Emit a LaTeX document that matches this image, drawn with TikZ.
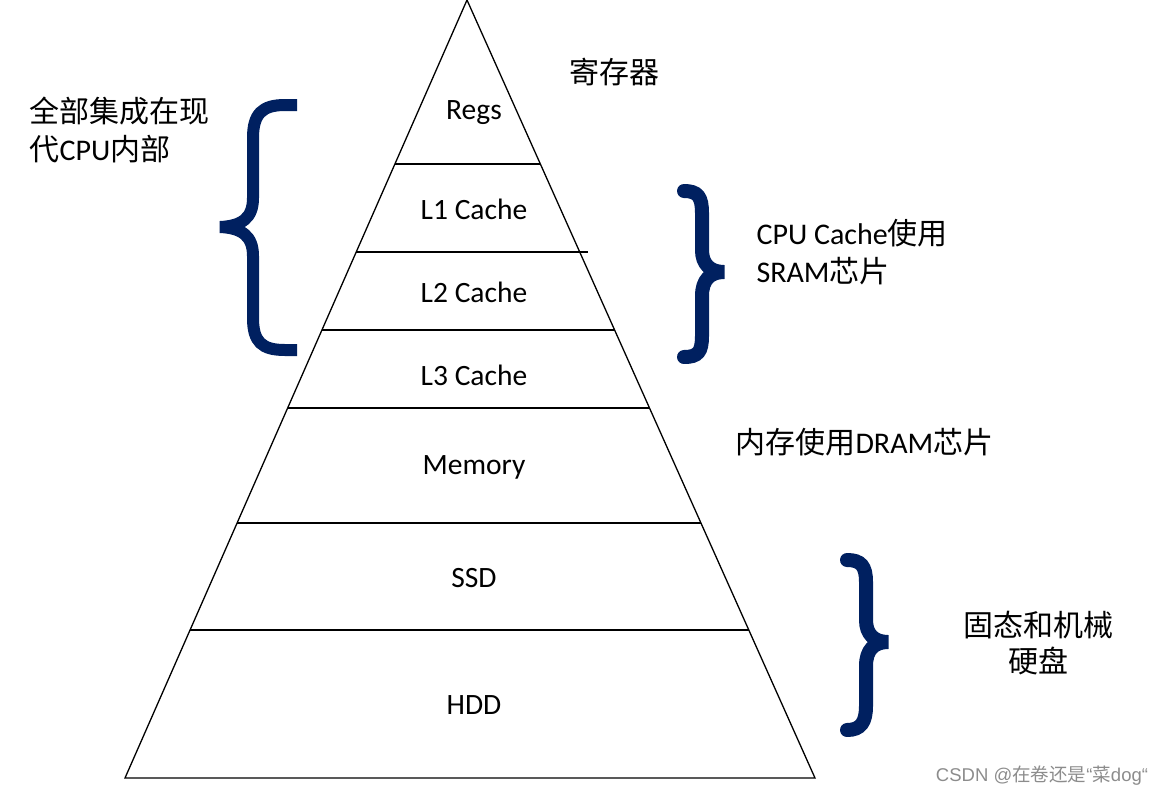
\documentclass[tikz,border=0pt]{standalone}
\usepackage{fontspec}
\setmainfont{Carlito}
\newfontfamily\cjk{Noto Sans CJK SC}
\newfontfamily\wmfont{Liberation Sans}
\definecolor{navy}{RGB}{0,32,96}
\newcommand{\zh}[1]{{\cjk #1}}
\tikzset{
  level/.style={font=\fontsize{29.5}{34}\selectfont},
  side/.style={font=\fontsize{30}{38}\selectfont, align=left, anchor=west},
  bracket/.style={draw=navy, line width=14pt, line cap=round},
}
\begin{document}
\begin{tikzpicture}[x=1pt, y=-1pt]
\useasboundingbox (0,0) rectangle (1165,796);
% pyramid
\draw[line width=1.3pt] (467,0)--(815,778)--(125,778)--cycle;
\draw[line width=1.3pt] (394.9,164)--(540.4,164);
\draw[line width=1.3pt] (356.2,252)--(588,252);
\draw[line width=1.3pt] (321.9,330)--(614.6,330);
\draw[line width=1.3pt] (287.6,408)--(649.5,408);
\draw[line width=1.3pt] (237.1,523)--(700.9,523);
\draw[line width=1.3pt] (190.1,630)--(748.8,630);
\node[level] (regs) at (474,113) {Regs};
\node[level] (lone) at (474,209) {L1 Cache};
\node[level] (ltwo) at (474,292) {L2 Cache};
\node[level] (lthree) at (474,375) {L3 Cache};
\node[level] (mem) at (474,467) {Memory};
\node[level] (ssd) at (474,578) {SSD};
\node[level] (hdd) at (474,705) {HDD};
% braces
\draw[draw=navy, line width=12pt] (297,105)--(285,105) .. controls (262,105) and (253,114) .. (253,138)
  --(253,198) .. controls (253,218) and (242,226) .. (220,227)
  .. controls (242,228) and (253,236) .. (253,256)--(253,318)
  .. controls (253,342) and (262,350) .. (285,350)--(297,350);
\draw[bracket] (684,191) .. controls (698,191) and (702,197) .. (702,213)--(702,250)
  .. controls (702,264) and (710,272) .. (724,272)
  .. controls (710,272) and (702,280) .. (702,296)--(702,336)
  .. controls (702,352) and (698,357) .. (684,357);
\draw[bracket] (847,560) .. controls (861,560) and (866,566) .. (866,582)--(866,620)
  .. controls (866,634) and (874,642) .. (888,642)
  .. controls (874,642) and (866,650) .. (866,666)--(866,706)
  .. controls (866,722) and (861,730) .. (847,730);
% side texts
\node[font=\fontsize{30}{38}\selectfont\cjk] (reg) at (614,72) {寄存器};
\node[side] (cpu) at (26,130) {\zh{全部集成在现}\\\zh{代}CPU\zh{内部}};
\node[side] (sram) at (753,252) {CPU Cache\zh{使用}\\SRAM\zh{芯片}};
\node[side] (dram) at (732,442) {\zh{内存使用}DRAM\zh{芯片}};
\node[font=\fontsize{30}{36}\selectfont\cjk, align=center] (disk) at (1038,643) {固态和机械\\硬盘};
\node[font=\fontsize{18.5}{22}\selectfont\wmfont, text=black!45] (mark) at (1042,776)
  {CSDN @\zh{在卷还是}“\zh{菜}dog“};
\end{tikzpicture}
\end{document}
